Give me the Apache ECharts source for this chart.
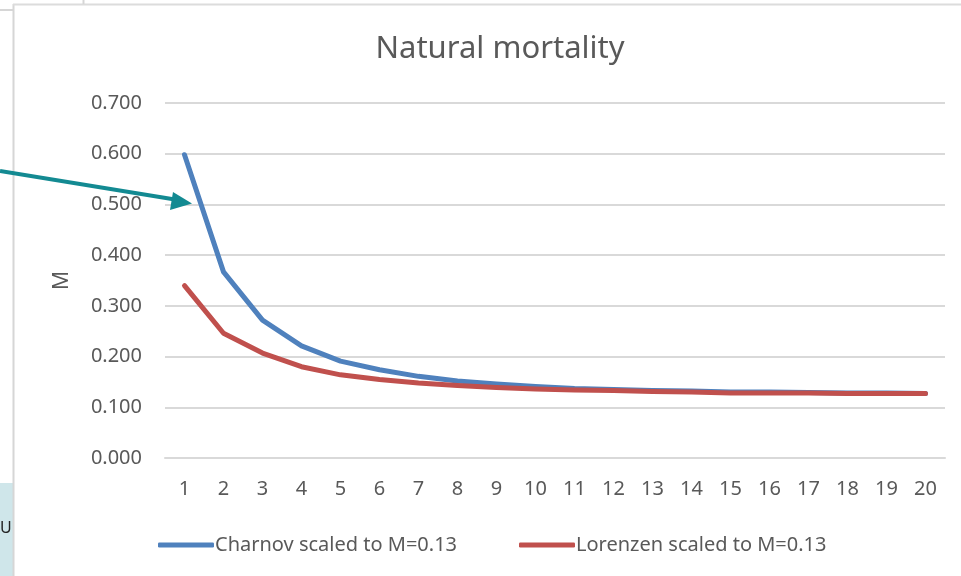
<!DOCTYPE html>
<html>
<head>
<meta charset="utf-8">
<script src="https://cdn.jsdelivr.net/npm/echarts@6/dist/echarts.min.js"></script>
<style>
  html, body { margin: 0; padding: 0; background: #fff; }
  #chart { width: 961px; height: 576px; }
</style>
</head>
<body>
<div id="chart"></div>
<script>
// 数据
const ages = ['1', '2', '3', '4', '5', '6', '7', '8', '9', '10',
  '11', '12', '13', '14', '15', '16', '17', '18', '19', '20']
const charnov = [0.598, 0.367, 0.272, 0.221, 0.191, 0.174, 0.161, 0.152, 0.146, 0.141,
  0.137, 0.135, 0.133, 0.132, 0.130, 0.130, 0.129, 0.128, 0.128, 0.127]
const lorenzen = [0.340, 0.246, 0.207, 0.180, 0.164, 0.155, 0.148, 0.143, 0.139, 0.136,
  0.134, 0.133, 0.131, 0.130, 0.128, 0.128, 0.128, 0.127, 0.127, 0.127]
const yTicks = { min: 0, max: 0.7, step: 0.1 }

const chart = echarts.init(document.getElementById('chart'))
const font = 'Noto Sans'
const gray = '#595959'

// 图例样式
const legendBase = {
  top: 530,
  icon: 'roundRect',
  itemWidth: 56,
  itemHeight: 5,
  textStyle: { fontFamily: font, fontSize: 20, color: gray, padding: [0, 0, 0, -4] }
}

const option = {
  backgroundColor: '#fff',
  animation: false,
  title: {
    text: 'Natural mortality',
    left: 495,
    top: 29,
    textAlign: 'center',
    textStyle: { fontFamily: font, fontSize: 31, fontWeight: 'normal', color: gray }
  },
  legend: [
    Object.assign({}, legendBase, { data: ['Charnov scaled to M=0.13'], left: 153 }),
    Object.assign({}, legendBase, { data: ['Lorenzen scaled to M=0.13'], left: 514 })
  ],
  grid: { left: 165, right: 16, top: 103, bottom: 118 },
  xAxis: {
    type: 'category',
    data: ages,
    boundaryGap: true,
    axisLine: { show: true, lineStyle: { color: '#d9d9d9', width: 2 } },
    axisTick: { show: false },
    axisLabel: { fontFamily: font, fontSize: 20, color: gray, margin: 21 }
  },
  yAxis: {
    type: 'value',
    min: yTicks.min,
    max: yTicks.max,
    interval: yTicks.step,
    name: 'M',
    nameLocation: 'middle',
    nameRotate: 90,
    nameGap: 92,
    nameTextStyle: { fontFamily: font, fontSize: 21, color: gray },
    axisLine: { show: false },
    axisTick: { show: false },
    splitLine: { lineStyle: { color: '#d9d9d9', width: 2 } },
    axisLabel: {
      fontFamily: font, fontSize: 20, color: gray, margin: 23,
      formatter: v => v.toFixed(3)
    }
  },
  series: [
    {
      name: 'Charnov scaled to M=0.13',
      type: 'line',
      data: charnov,
      showSymbol: false,
      symbol: 'none',
      lineStyle: { color: '#4f81bd', width: 5, cap: 'round', join: 'round' },
      itemStyle: { color: '#4f81bd' }
    },
    {
      name: 'Lorenzen scaled to M=0.13',
      type: 'line',
      data: lorenzen,
      showSymbol: false,
      symbol: 'none',
      lineStyle: { color: '#c0504d', width: 5, cap: 'round', join: 'round' },
      itemStyle: { color: '#c0504d' }
    }
  ],
  graphic: [
    // 背景框
    { type: 'rect', shape: { x: 0, y: 483, width: 13, height: 93 }, style: { fill: '#cfe6ea' }, z: 0 },
    { type: 'line', shape: { x1: 13.5, y1: 4, x2: 13.5, y2: 576 }, style: { stroke: '#d6d6d6', lineWidth: 2 } },
    { type: 'line', shape: { x1: 0, y1: 10, x2: 13, y2: 10 }, style: { stroke: '#d6d6d6', lineWidth: 2 } },
    { type: 'line', shape: { x1: 13, y1: 4.5, x2: 961, y2: 4.5 }, style: { stroke: '#dcdcdc', lineWidth: 2 } },
    { type: 'line', shape: { x1: 83.5, y1: 0, x2: 83.5, y2: 4 }, style: { stroke: '#d6d6d6', lineWidth: 2 } },
    { type: 'text', left: 0, top: 520, style: { text: 'U', fontFamily: font, fontSize: 16, fill: '#222' } },
    // 箭头
    { type: 'line', shape: { x1: 0, y1: 171, x2: 178, y2: 200 }, style: { stroke: '#138a92', lineWidth: 4 }, z: 100 },
    { type: 'polygon', shape: { points: [[192, 203.5], [173, 192], [170, 210]] }, style: { fill: '#138a92' }, z: 100 }
  ]
}

chart.setOption(option)
</script>
</body>
</html>
